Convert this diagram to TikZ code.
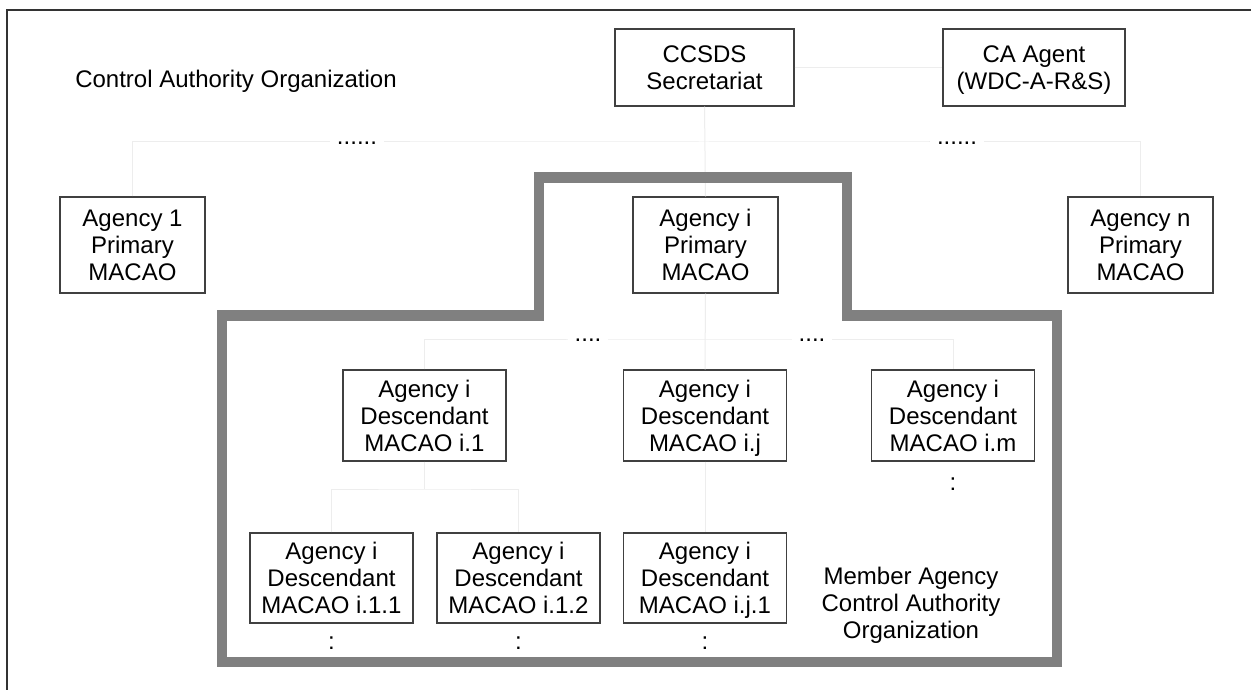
\documentclass[tikz,border=0pt]{standalone}
\usepackage{fontspec}
\setmainfont{Liberation Sans}
\newcommand\topst{\rule{0pt}{25.3pt}}
\newcommand\botst{\rule[-8.1pt]{0pt}{8.1pt}}
\begin{document}
\begin{tikzpicture}[x=1pt,y=-1pt,
  every node/.style={font=\fontsize{24}{27}\selectfont, inner sep=0pt, align=center},
  orgbox/.style={draw=black!75, line width=1.3pt, fill=white},
  link/.style={draw=black!7, line width=1pt},
  dots/.style={fill=white, inner xsep=7pt, inner ysep=2pt},
  frameline/.style={draw=black!80, line width=2pt},
  groupline/.style={draw=black!50, line width=10.5pt, line join=miter}]
\useasboundingbox (0,0) rectangle (1251,690);
\fill[white] (0,0) rectangle (1251,690);
% outer frame (top and left only)
\coordinate (fTL) at (7,10);
\coordinate (fTR) at (1252,10);
\coordinate (fBL) at (7,691);
\draw[frameline] (fBL) -- (fTL) -- (fTR);

\node (title) at (236,81) {Control Authority Organization};

% top level
\node[orgbox, minimum width=179pt, minimum height=77pt] (ccsds) at (704.5,67.5) {\topst CCSDS\\Secretariat\botst};
\node[orgbox, minimum width=182pt, minimum height=77pt] (agent) at (1034,67.5) {\topst CA Agent\\(WDC-A-R\&S)\botst};

% primary agencies
\node[orgbox, minimum width=145pt, minimum height=96pt] (a1) at (132.5,245) {\topst Agency 1\\Primary\\MACAO\botst};
\node[orgbox, minimum width=145pt, minimum height=96pt] (ai) at (705.5,245) {\topst Agency i\\Primary\\MACAO\botst};
\node[orgbox, minimum width=145pt, minimum height=96pt] (an) at (1140.5,245) {\topst Agency n\\Primary\\MACAO\botst};

% descendants level 1
\node[orgbox, minimum width=163pt, minimum height=91pt] (i1) at (424.5,415.5) {\topst Agency i\\Descendant\\MACAO i.1\botst};
\node[orgbox, minimum width=163pt, minimum height=91pt] (ij) at (705,415.5) {\topst Agency i\\Descendant\\MACAO i.j\botst};
\node[orgbox, minimum width=163pt, minimum height=91pt] (im) at (953,415.5) {\topst Agency i\\Descendant\\MACAO i.m\botst};

% descendants level 2
\node[orgbox, minimum width=163pt, minimum height=90pt] (i11) at (331.5,578) {\topst Agency i\\Descendant\\MACAO i.1.1\botst};
\node[orgbox, minimum width=163pt, minimum height=90pt] (i12) at (518.5,578) {\topst Agency i\\Descendant\\MACAO i.1.2\botst};
\node[orgbox, minimum width=163pt, minimum height=90pt] (ij1) at (705,578) {\topst Agency i\\Descendant\\MACAO i.j.1\botst};

% connectors
\coordinate (busTop) at (704.5,142);
\draw[link] (ccsds.east) -- (agent.west);
\draw[link] (ccsds.south) -- (ai.north);
\draw[link] (a1.north) |- (busTop) -| (an.north);
\coordinate (busMid) at (705,339);
\draw[link] (ai.south) -- (ij.north);
\draw[link] (i1.north) |- (busMid) -| (im.north);
\coordinate (busLow) at (424.5,489);
\draw[link] (i1.south) -- (busLow);
\draw[link] (i11.north) |- (busLow) -| (i12.north);
\draw[link] (ij.south) -- (ij1.north);

% ellipsis labels
\node[dots] (d1) at (357,143) {......};
\node[dots] (d2) at (957,143) {......};
\node[dots] (d3) at (588,340) {....};
\node[dots] (d4) at (812,340) {....};
\node (c1) at ([yshift=-23pt]im.south) {:};
\node (c2) at ([yshift=-20pt]i11.south) {:};
\node (c3) at ([yshift=-20pt]i12.south) {:};
\node (c4) at ([yshift=-20pt]ij1.south) {:};

% member agency group outline
\draw[groupline] (222,662) -- (222,315.5) -- (539,315.5) -- (539,177.5) -- (847,177.5) -- (847,315.5) -- (1057,315.5) -- (1057,662) -- cycle;
\node (member) at (911,605) {Member Agency\\Control Authority\\Organization};
\end{tikzpicture}
\end{document}
